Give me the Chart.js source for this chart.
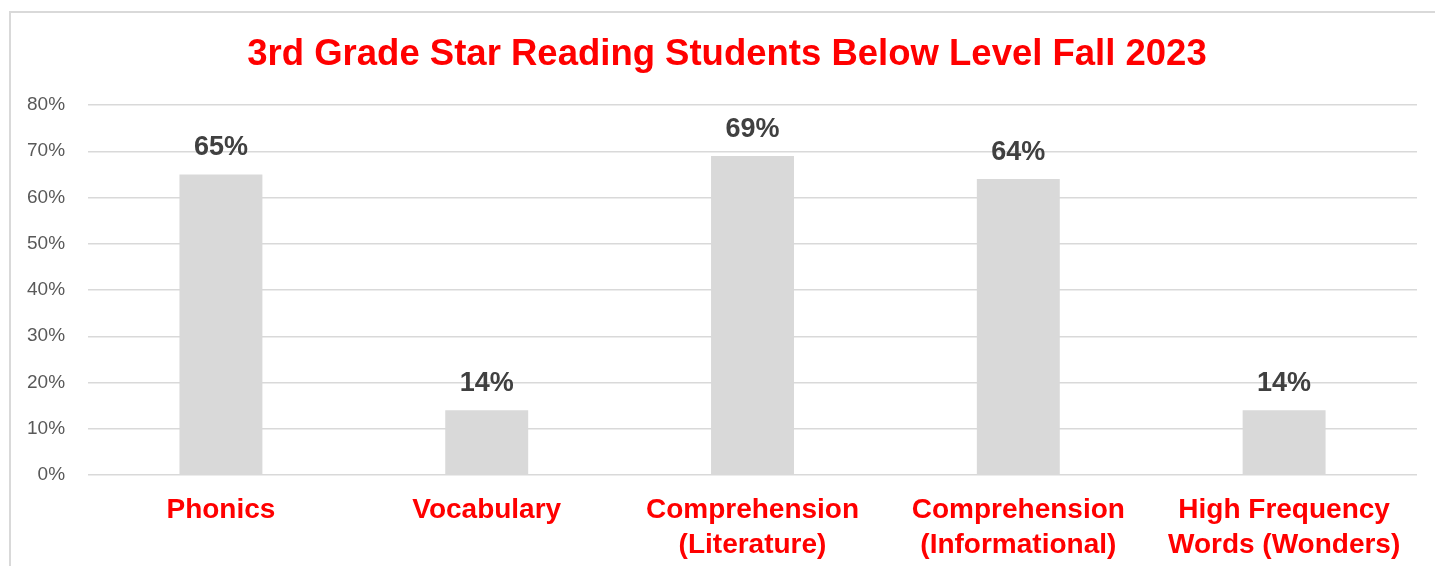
<!DOCTYPE html>
<html>
<head>
<meta charset="utf-8">
<script src="https://cdn.jsdelivr.net/npm/chart.js@4"></script>
<style>
  html, body { margin: 0; padding: 0; background: #fff; }
  #wrap { position: relative; width: 1435px; height: 566px; overflow: hidden; }
  #frame { position: absolute; left: 9px; top: 11px; right: -5px; bottom: -5px;
           border-left: 2px solid #d9d9d9; border-top: 2px solid #d9d9d9; }
  #c { position: absolute; left: 0; top: 0; }
</style>
</head>
<body>
<div id="wrap">
  <div id="frame"></div>
  <canvas id="c" width="1435" height="566"></canvas>
</div>
<script>
var chartTitle = "3rd Grade Star Reading Students Below Level Fall 2023";
var categories = [
    "Phonics",
    "Vocabulary",
    ["Comprehension", "(Literature)"],
    ["Comprehension", "(Informational)"],
    ["High Frequency", "Words (Wonders)"]
];
var belowLevel = [65, 14, 69, 64, 14];
var yTicks = [0, 10, 20, 30, 40, 50, 60, 70, 80];

var FONT = "'Liberation Sans', Arial, sans-serif";

// value labels above each bar + the title (the title sits a bit right of canvas center)
var barLabels = {
    id: "barLabels",
    afterDatasetsDraw: function (chart) {
        var ctx = chart.ctx;
        var meta = chart.getDatasetMeta(0);
        ctx.save();
        ctx.font = "bold 27px " + FONT;
        ctx.fillStyle = "#404040";
        ctx.textAlign = "center";
        ctx.textBaseline = "alphabetic";
        meta.data.forEach(function (bar, i) {
            ctx.fillText(belowLevel[i] + "%", bar.x, bar.y - 19);
        });

        ctx.font = "bold 36.5px " + FONT;
        ctx.fillStyle = "#ff0000";
        ctx.textBaseline = "alphabetic";
        ctx.fillText(chartTitle, 727, 65);
        ctx.restore();
    }
};

var ctx = document.getElementById("c").getContext("2d");
var chart = new Chart(ctx, {
    type: "bar",
    data: {
        labels: categories,
        datasets: [{
            label: "Students Below Level",
            data: belowLevel,
            backgroundColor: "#d9d9d9",
            borderWidth: 0,
            categoryPercentage: 1,
            barPercentage: 0.312
        }]
    },
    options: {
        responsive: false,
        animation: false,
        layout: { padding: { left: 4, right: 18, top: 105, bottom: -7 } },
        plugins: {
            legend: { display: false },
            tooltip: { enabled: false },
            title: { display: false }
        },
        scales: {
            x: {
                grid: { display: false },
                border: { display: false },
                ticks: {
                    color: "#ff0000",
                    padding: 10,
                    maxRotation: 0,
                    autoSkip: false,
                    font: { family: FONT, size: 28, weight: "bold", lineHeight: 1.25 }
                }
            },
            y: {
                min: 0,
                max: 80,
                afterBuildTicks: function (axis) {
                    axis.ticks = yTicks.map(function (v) { return { value: v }; });
                },
                grid: { color: "#d9d9d9", lineWidth: 1.5, drawTicks: false },
                border: { display: false },
                ticks: {
                    color: "#595959",
                    padding: 23,
                    font: { family: FONT, size: 19 },
                    callback: function (v) { return v + "%"; }
                }
            }
        }
    },
    plugins: [barLabels]
});
</script>
</body>
</html>
